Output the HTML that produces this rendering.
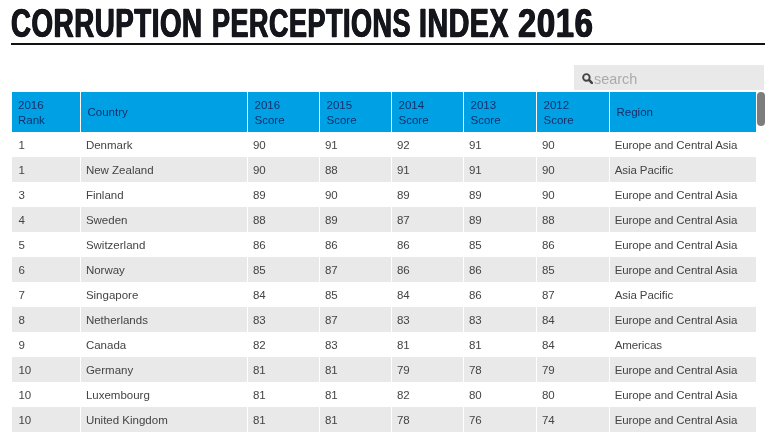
<!DOCTYPE html>
<html lang="en">
<head>
<meta charset="utf-8">
<title>Corruption Perceptions Index 2016</title>
<style>
html,body{margin:0;padding:0;background:#fff;}
body{width:771px;height:436px;overflow:hidden;position:relative;font-family:"Liberation Sans",sans-serif;}
h1{position:absolute;left:0;top:0;width:771px;height:46px;margin:0;font-size:40.3px;line-height:46px;font-weight:bold;color:#15151c;white-space:nowrap;}
h1 span{position:absolute;top:1px;left:0;display:block;transform-origin:0 0;-webkit-text-stroke:0.4px #15151c;text-shadow:0.75px 0 0 #15151c,-0.75px 0 0 #15151c;letter-spacing:0.8px;}
h1 .w1{left:11.2px;transform:scaleX(0.6871);}
h1 .w2{left:212px;transform:scaleX(0.6685);}
h1 .w3{left:419px;transform:scaleX(0.7081);}
h1 .w4{left:518px;transform:scaleX(0.8135);}
.rule{position:absolute;left:11px;top:43px;width:754px;height:2px;background:#111;}
.search{position:absolute;left:574px;top:64.7px;width:190px;height:25.7px;background:#e9e9e9;box-sizing:border-box;color:#aaa;font-size:14.4px;line-height:28px;padding-left:20px;}
.search svg{position:absolute;left:7.6px;top:8px;}
table{position:absolute;left:12px;top:92px;width:744px;border-collapse:collapse;table-layout:fixed;font-size:11.5px;color:#444;}
th{background:#00a1e4;color:#14306b;font-weight:normal;text-align:left;height:40px;line-height:15px;padding:2px 0 0 7px;border-left:1px solid #fff;vertical-align:middle;box-sizing:border-box;}
td{height:25px;padding:1px 0 0 5.4px;border-left:1px solid #fff;box-sizing:border-box;white-space:nowrap;}
th:first-child,td:first-child{border-left:0;}
td:first-child{padding-left:6.4px;}
th:first-child{padding-left:6px;}
th.one{padding-top:0;}
td:last-child{padding-left:5.2px;letter-spacing:-0.09px;}
tr:nth-child(even) td{background:#e9e9e9;}
.thumb{position:absolute;left:757px;top:92px;width:8px;height:34px;border-radius:4px;background:#7d7d7d;}
</style>
</head>
<body>
<h1><span class="w1">CORRUPTION </span><span class="w2">PERCEPTIONS </span><span class="w3">INDEX </span><span class="w4">2016</span></h1>
<div class="rule"></div>
<div class="search"><svg width="11.5" height="11.5" viewBox="0 0 12 12"><circle cx="4.6" cy="4.6" r="3.4" fill="none" stroke="#444" stroke-width="2"/><path d="M7 7 L11.3 11.3" stroke="#444" stroke-width="2.7" stroke-linecap="butt"/></svg>search</div>
<table>
<colgroup><col style="width:68px"><col style="width:167px"><col style="width:72px"><col style="width:72px"><col style="width:72px"><col style="width:73px"><col style="width:73px"><col style="width:147px"></colgroup>
<thead><tr><th>2016<br>Rank</th><th class="one">Country</th><th>2016<br>Score</th><th>2015<br>Score</th><th>2014<br>Score</th><th>2013<br>Score</th><th>2012<br>Score</th><th class="one">Region</th></tr></thead>
<tbody>
<tr><td>1</td><td>Denmark</td><td>90</td><td>91</td><td>92</td><td>91</td><td>90</td><td>Europe and Central Asia</td></tr>
<tr><td>1</td><td>New Zealand</td><td>90</td><td>88</td><td>91</td><td>91</td><td>90</td><td>Asia Pacific</td></tr>
<tr><td>3</td><td>Finland</td><td>89</td><td>90</td><td>89</td><td>89</td><td>90</td><td>Europe and Central Asia</td></tr>
<tr><td>4</td><td>Sweden</td><td>88</td><td>89</td><td>87</td><td>89</td><td>88</td><td>Europe and Central Asia</td></tr>
<tr><td>5</td><td>Switzerland</td><td>86</td><td>86</td><td>86</td><td>85</td><td>86</td><td>Europe and Central Asia</td></tr>
<tr><td>6</td><td>Norway</td><td>85</td><td>87</td><td>86</td><td>86</td><td>85</td><td>Europe and Central Asia</td></tr>
<tr><td>7</td><td>Singapore</td><td>84</td><td>85</td><td>84</td><td>86</td><td>87</td><td>Asia Pacific</td></tr>
<tr><td>8</td><td>Netherlands</td><td>83</td><td>87</td><td>83</td><td>83</td><td>84</td><td>Europe and Central Asia</td></tr>
<tr><td>9</td><td>Canada</td><td>82</td><td>83</td><td>81</td><td>81</td><td>84</td><td>Americas</td></tr>
<tr><td>10</td><td>Germany</td><td>81</td><td>81</td><td>79</td><td>78</td><td>79</td><td>Europe and Central Asia</td></tr>
<tr><td>10</td><td>Luxembourg</td><td>81</td><td>81</td><td>82</td><td>80</td><td>80</td><td>Europe and Central Asia</td></tr>
<tr><td>10</td><td>United Kingdom</td><td>81</td><td>81</td><td>78</td><td>76</td><td>74</td><td>Europe and Central Asia</td></tr>
</tbody>
</table>
<div class="thumb"></div>
</body>
</html>
